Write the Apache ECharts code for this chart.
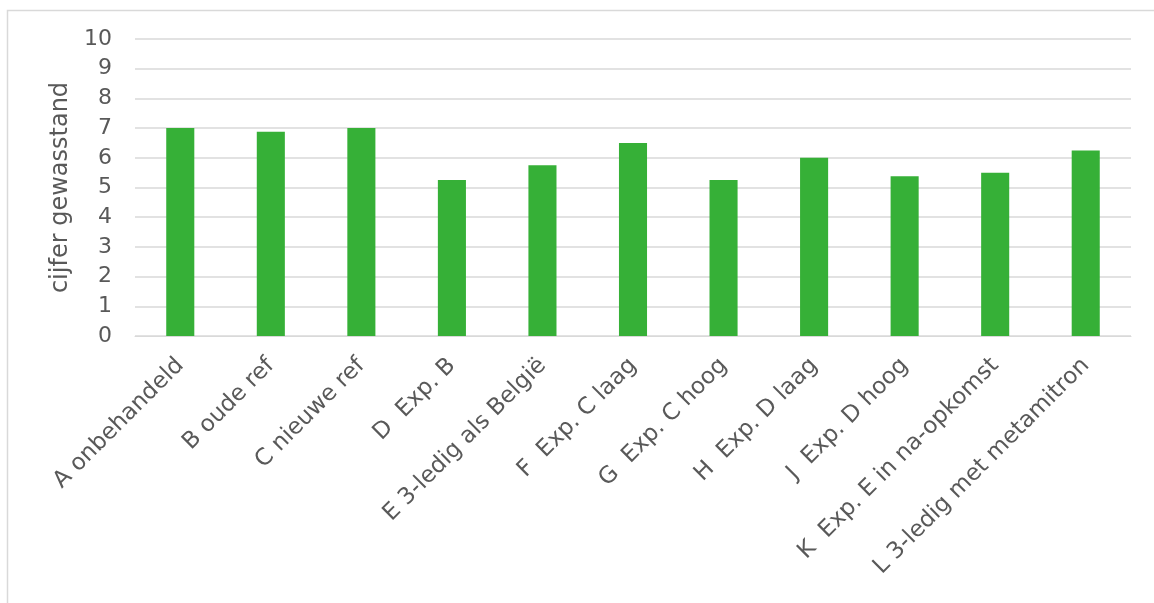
<!DOCTYPE html>
<html><head><meta charset="utf-8">
<script src="https://cdn.jsdelivr.net/npm/echarts@6/dist/echarts.min.js"></script>
<style>html,body{margin:0;padding:0;background:#fff}#c{width:1154px;height:603px}</style>
</head><body><div id="c"></div>
<script>
const categories = ["A onbehandeld","B oude ref","C nieuwe ref","D  Exp. B","E 3-ledig als België","F  Exp. C laag","G  Exp. C hoog","H  Exp. D laag","J  Exp. D hoog","K  Exp. E in na-opkomst","L 3-ledig met metamitron"];
const values = [7.0, 6.88, 7.0, 5.25, 5.75, 6.5, 5.25, 6.0, 5.38, 5.5, 6.25];
const yTitle = "cijfer gewasstand";

const chart = echarts.init(document.getElementById('c'), null, {renderer:'canvas'});
chart.setOption({
  animation:false,
  backgroundColor:'#fff',
  graphic:[
    {type:'polyline', shape:{points:[[7.5,610],[7.5,10.5],[1160,10.5]]}, style:{fill:'none',stroke:'#d9d9d9',lineWidth:1.5}, silent:true}
  ],
  grid:{left:135,right:23,top:39,bottom:267,containLabel:false},
  xAxis:{type:'category',data:categories,
    axisLine:{lineStyle:{color:'#d9d9d9',width:1}},
    axisTick:{show:false},
    axisLabel:{rotate:45,interval:0,color:'#595959',fontFamily:'DejaVu Sans',fontSize:23,margin:26}},
  yAxis:{type:'value',min:0,max:10,interval:1,
    name:yTitle,nameLocation:'middle',nameGap:62,nameRotate:90,
    nameTextStyle:{color:'#595959',fontFamily:'DejaVu Sans',fontSize:24},
    axisLine:{show:false},axisTick:{show:false},
    splitLine:{lineStyle:{color:'#d9d9d9',width:1.5}},
    axisLabel:{color:'#595959',fontFamily:'DejaVu Sans',fontSize:22,margin:23}},
  series:[{type:'bar',data:values,barWidth:'31%',itemStyle:{color:'#36B037'}}]
});
</script></body></html>
